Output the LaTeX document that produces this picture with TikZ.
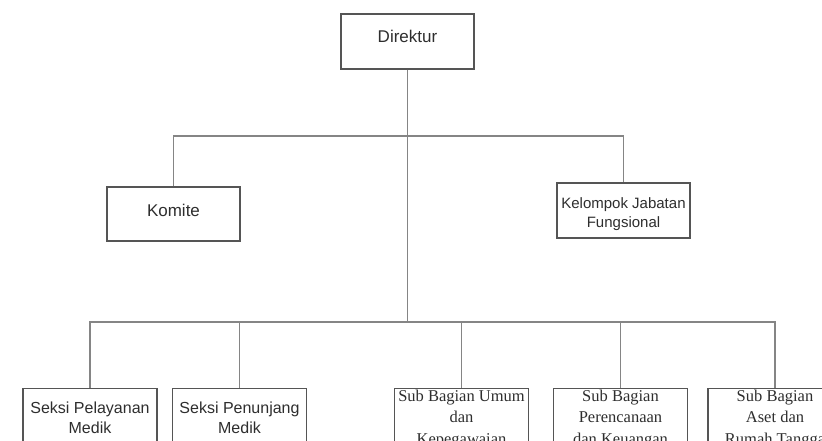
\documentclass[tikz,border=0pt]{standalone}
\usepackage{fontspec}
\setmainfont{Liberation Serif}
\setsansfont{Liberation Sans}
\usetikzlibrary{calc}
\definecolor{boxc}{HTML}{555555}
\definecolor{linec}{HTML}{858585}
\definecolor{txtc}{HTML}{2E2E2E}
\begin{document}
\begin{tikzpicture}[x=1pt,y=-1pt,
  box/.style={draw=boxc, line width=1.1pt, fill=white, inner sep=0pt},
  conn/.style={draw=linec, line width=1.1pt},
  bigtxt/.style={text=txtc, inner sep=0pt, font=\sffamily\fontsize{17}{20}\selectfont},
  midtxt/.style={text=txtc, inner sep=0pt, align=center, font=\sffamily\fontsize{15}{19}\selectfont},
  stxt/.style={text=txtc, inner sep=0pt, align=center, anchor=north, font=\sffamily\fontsize{16}{20}\selectfont},
  rtxt/.style={text=txtc, inner sep=0pt, align=center, anchor=north, font=\rmfamily\fontsize{16.5}{21.5}\selectfont},
  topbox/.style={box, minimum width=133pt, minimum height=55pt},
  lowbox/.style={box, anchor=north, minimum width=134pt, minimum height=80pt}]
\useasboundingbox (0,0) rectangle (822,440);
\clip (0,0) rectangle (822,440);
\fill[white] (0,0) rectangle (822,440);

\coordinate (top) at (407.5,136);
\coordinate (bot) at (407.5,322);

% boxes
\node[topbox] (dir) at (407.5,41.5) {};
\node[topbox, minimum height=54pt] (kom) at (173.5,214) {};
\node[topbox] (kel) at (623.5,210.5) {};

\node[lowbox] (b1) at (90,388) {};
\node[lowbox] (b2) at (239.5,388) {};
\node[lowbox] (b3) at (461.5,388) {};
\node[lowbox] (b4) at (620.5,388) {};
\node[lowbox] (b5) at (775,388) {};

% connectors
\draw[conn] (dir.south) -- (bot);
\draw[conn] (kom.north) |- (top) -| (kel.north);
\draw[conn] (b1.north) |- (bot) -| (b5.north);
\draw[conn] (b2.north) -- (b2.north |- bot);
\draw[conn] (b3.north) -- (b3.north |- bot);
\draw[conn] (b4.north) -- (b4.north |- bot);

% texts
\node[bigtxt] (dirt) at (407.5,36) {Direktur};
\node[bigtxt] (komt) at (173.5,210) {Komite};
\node[midtxt] (kelt) at (623.5,214) {Kelompok Jabatan\\Fungsional};

\node[stxt] (t1) at ($(b1.north)+(0,13.5)$) {Seksi Pelayanan\\Medik};
\node[stxt] (t2) at ($(b2.north)+(0,13.5)$) {Seksi Penunjang\\Medik};
\node[rtxt] (t3) at ($(b3.north)+(0,1.7)$) {Sub Bagian Umum\\dan\\Kepegawaian};
\node[rtxt] (t4) at ($(b4.north)+(0,1.7)$) {Sub Bagian\\Perencanaan\\dan Keuangan};
\node[rtxt] (t5) at ($(b5.north)+(0,1.7)$) {Sub Bagian\\Aset dan\\Rumah Tangga};
\end{tikzpicture}
\end{document}
